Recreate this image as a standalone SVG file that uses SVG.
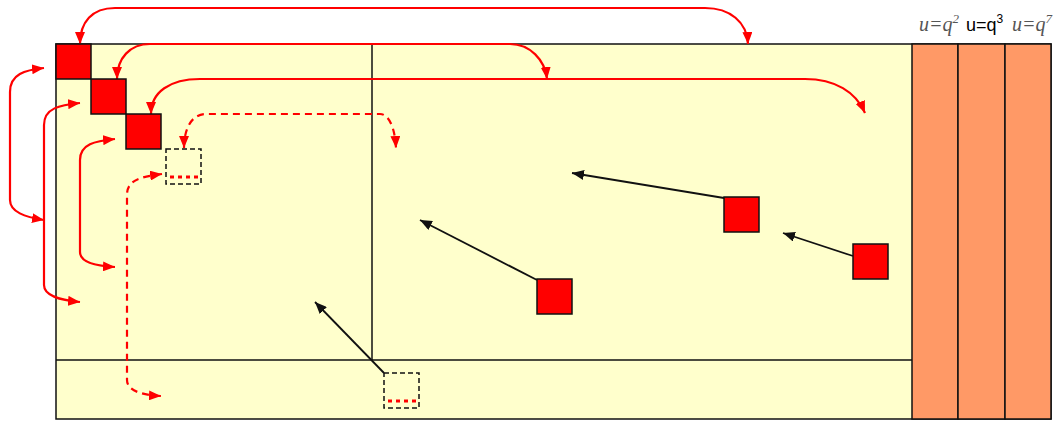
<svg xmlns="http://www.w3.org/2000/svg" width="1060" height="421" viewBox="0 0 1060 421">
<style>
.sq{fill:#FF0000;stroke:#111;stroke-width:1.5}
.col{fill:#FF9966;stroke:#111;stroke-width:1.5}
.dbox{fill:none;stroke:#111;stroke-width:1.5;stroke-dasharray:5,3}
.dots{stroke:#FF0000;stroke-width:3;stroke-dasharray:4,4}
.ra{fill:none;stroke:#FF0000;stroke-width:2.2;marker-start:url(#rh);marker-end:url(#rh)}
.rd{stroke-dasharray:7,5}
.ba{fill:none;stroke:#111;stroke-width:1.8;marker-end:url(#bh)}
.lbl{font-family:"Liberation Serif",serif;font-style:italic;font-size:20px;fill:#555}
.lbs{font-family:"Liberation Sans",sans-serif;font-size:18px;fill:#000}
</style>
<defs>
<marker id="rh" viewBox="0 0 12 10" refX="12" refY="5" markerWidth="12" markerHeight="10" markerUnits="userSpaceOnUse" orient="auto-start-reverse"><path d="M0,0 L12,5 L0,10 z" fill="#FF0000"/></marker>
<marker id="bh" viewBox="0 0 12 10" refX="12" refY="5" markerWidth="12" markerHeight="10" markerUnits="userSpaceOnUse" orient="auto"><path d="M0,0 L12,5 L0,10 z" fill="#111"/></marker>
</defs>
<g id="frame">
<rect x="56" y="44" width="995" height="375" fill="#FFFFCC" stroke="#111" stroke-width="1.5"/>
<line x1="372" y1="44" x2="372" y2="360" stroke="#111" stroke-width="1.5"/>
<line x1="56" y1="360" x2="912" y2="360" stroke="#111" stroke-width="1.5"/>
</g>
<g id="col-q2"><rect class="col" x="912" y="44" width="46" height="375"/></g>
<g id="col-q3"><rect class="col" x="958" y="44" width="47" height="375"/></g>
<g id="col-q7"><rect class="col" x="1005" y="44" width="46" height="375"/></g>
<g id="labels">
<text class="lbl" x="919" y="31">u=q<tspan font-size="13" dy="-8">2</tspan></text>
<text class="lbs" x="966" y="31">u=q<tspan font-size="12" dy="-8">3</tspan></text>
<text class="lbl" x="1012" y="31">u=q<tspan font-size="13" dy="-8">7</tspan></text>
</g>
<g id="connectors">
<path class="ra" d="M80,44 C80,22 92,8 115,8 L705,8 C730,8 747,22 748,44"/>
<path class="ra" d="M117,79 C117,58 130,44 150,44 L510,44 C530,44 545,60 547,79"/>
<path class="ra" d="M151,114 C151,92 170,79 200,79 L805,79 C835,79 856,92 865,113"/>
<path class="ra rd" d="M184,148 C184,128 192,114 206,114 L380,114 C389,114 395,128 396,148"/>
<path class="ra" d="M44,68 C25,70 10,74 10,92 L10,200 C10,212 25,217 44,220"/>
<path class="ra" d="M80,103 C60,105 44,108 44,125 L44,285 C44,296 60,300 80,302"/>
<path class="ra" d="M115,139 C95,141 80,144 80,160 L80,252 C80,262 95,266 115,267"/>
<path class="ra rd" d="M162,174 C140,177 127,180 127,195 L127,380 C127,390 140,395 161,396"/>
<path class="ba" d="M384,373 L315,302"/>
<path class="ba" d="M537,280 L420,220"/>
<path class="ba" d="M724,198 L572,173"/>
<path class="ba" d="M853,256 L783,233"/>
</g>
<g id="sq1"><rect class="sq" x="56" y="44" width="35" height="35"/></g>
<g id="sq2"><rect class="sq" x="91" y="79" width="35" height="35"/></g>
<g id="sq3"><rect class="sq" x="126" y="114" width="35" height="35"/></g>
<g id="dbox1"><rect class="dbox" x="166" y="149" width="35" height="35"/><line class="dots" x1="170" y1="177" x2="199" y2="177"/></g>
<g id="dbox2"><rect class="dbox" x="384" y="373" width="35" height="35"/><line class="dots" x1="388" y1="401" x2="417" y2="401"/></g>
<g id="sq4"><rect class="sq" x="537" y="279" width="35" height="35"/></g>
<g id="sq5"><rect class="sq" x="724" y="197" width="35" height="35"/></g>
<g id="sq6"><rect class="sq" x="853" y="244" width="35" height="35"/></g>
</svg>
